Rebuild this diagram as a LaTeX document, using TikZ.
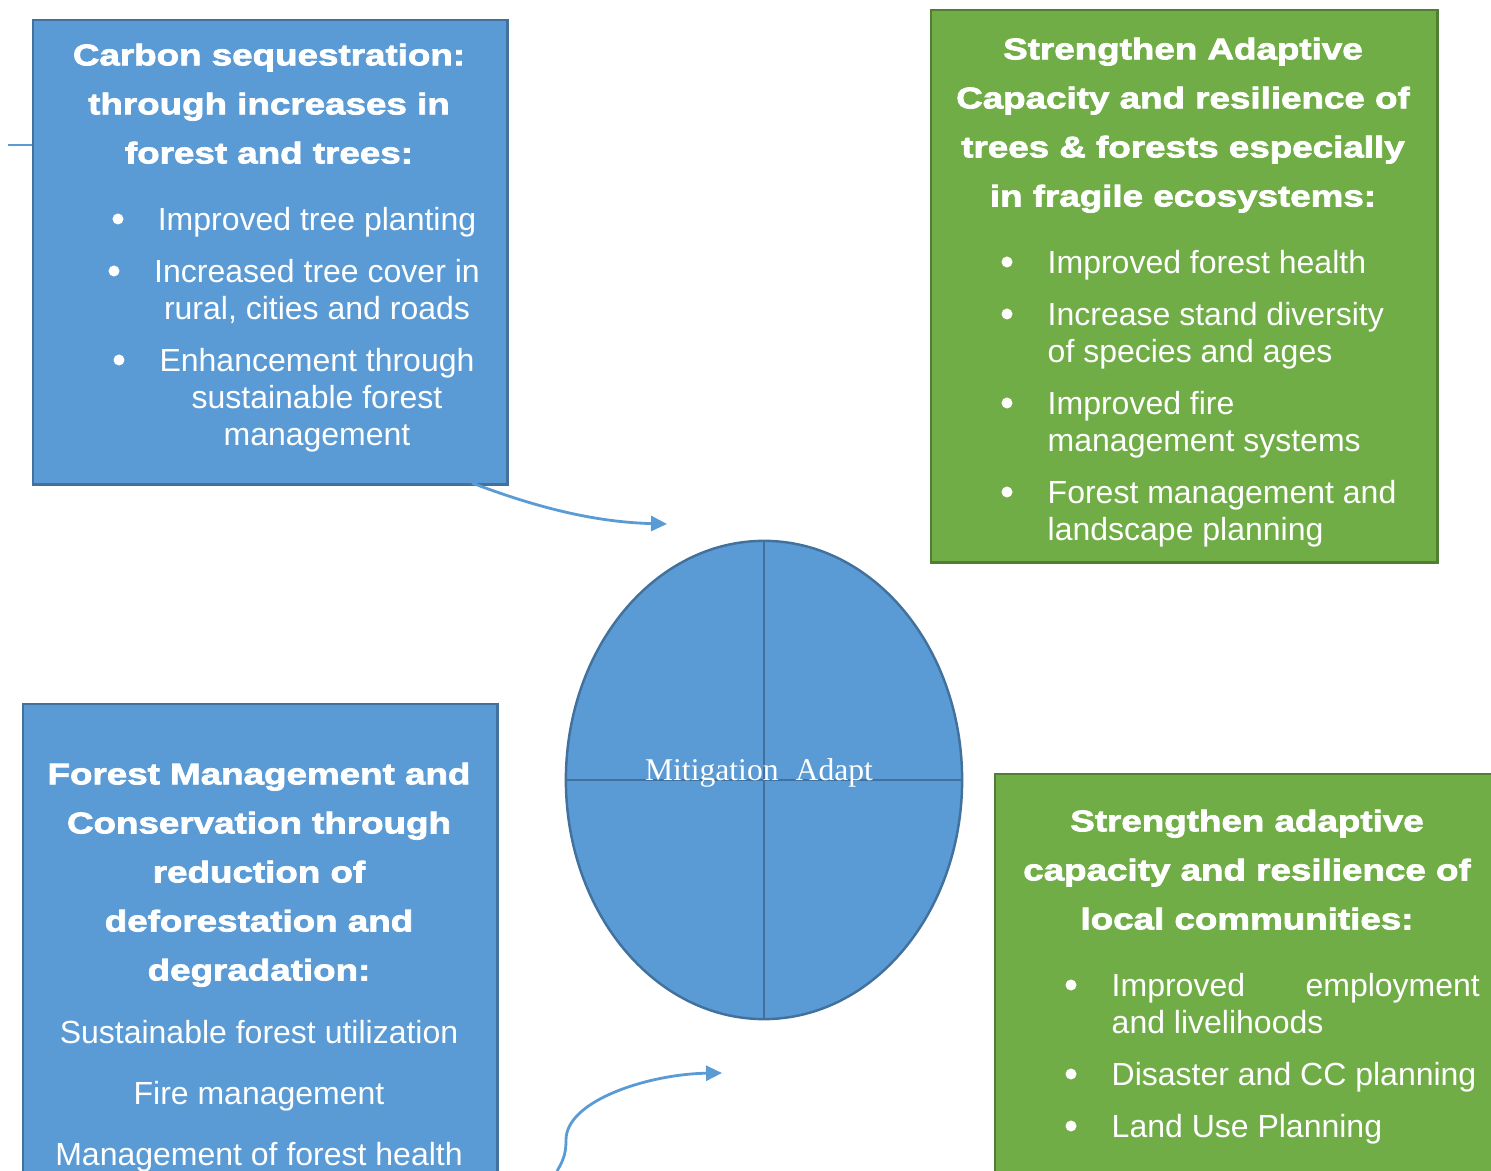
\documentclass[tikz,border=0pt]{standalone}
\usepackage{fontspec}
\setmainfont{Liberation Sans}
\newfontfamily\headfont[FakeStretch=1.23,FakeBold=2.5]{Liberation Sans Bold}
\newfontfamily\ovalfont{Liberation Serif}
\usetikzlibrary{positioning,arrows.meta,shapes.geometric}

\definecolor{mitfill}{HTML}{5B9BD5}
\definecolor{mitline}{HTML}{41719C}
\definecolor{adafill}{HTML}{70AD47}
\definecolor{adaline}{HTML}{507E32}

\begin{document}
\begin{tikzpicture}[
x=0.01cm, y=-0.01cm,
mitbox/.style={
	rectangle,
	draw=mitline,
	fill=mitfill,
	line width=0.7pt,
	anchor=north west
},
adabox/.style={
	rectangle,
	draw=adaline,
	fill=adafill,
	line width=0.7pt,
	anchor=north west
},
head/.style={
	anchor=north,
	inner sep=0pt,
	align=center,
	text=white,
	font=\headfont\fontsize{8.5}{13.94}\selectfont
},
itemtext/.style={
	anchor=north west,
	inner sep=0pt,
	align=left,
	text=white,
	font=\fontsize{9.1}{10.53}\selectfont
},
itemmid/.style={
	itemtext,
	anchor=north,
	align=center
},
dot/.style={
	circle,
	fill=white,
	inner sep=0pt,
	minimum size=0.11cm
},
link/.style={draw=mitfill, line width=0.8pt},
arrow/.style={link, -{Triangle[length=0.16cm,width=0.15cm]}}
]

\useasboundingbox (0,0) rectangle (1491,1171);
\clip (0,0) rectangle (1491,1171);

% the four boxes
\node[mitbox, minimum width=4.74cm, minimum height=4.64cm] (carbon) at (32,19) {};
\node[adabox, minimum width=5.06cm, minimum height=5.52cm] (trees) at (930,9) {};
\node[mitbox, minimum width=4.74cm, minimum height=5.6cm] (manage) at (22,703) {};
\node[adabox, minimum width=5.3cm, minimum height=5cm] (people) at (994,773) {};

% centre oval
\node[ellipse, draw=mitline, fill=mitfill, line width=0.7pt, inner sep=0pt,
	minimum width=3.96cm, minimum height=4.78cm] (pool) at (764,780) {};
\draw[mitline, line width=0.7pt] (pool.north) -- (pool.south) (pool.west) -- (pool.east);
\node[anchor=base, inner sep=0pt, text=white, font=\ovalfont\fontsize{9}{11}\selectfont]
	(pool-text) at (759,781) {Mitigation\hspace{0.17cm}Adapt};

% carbon box
\node[head] (carbon-head) at (269,43) {Carbon sequestration:\\through increases in\\forest and trees:};
\node[itemmid] (carbon-a) at (317,207) {Improved tree planting};
\node[itemmid] (carbon-b) at (317,259) {Increased tree cover in\\rural, cities and roads};
\node[itemmid] (carbon-c) at (317,348) {Enhancement through\\sustainable forest\\management};
\foreach \n/\x/\y in {a/118/219, b/114/271, c/119/360}
	\node[dot] (carbon-dot-\n) at (\x,\y) {};

% trees box
\node[head] (trees-head) at (1183,37) {Strengthen Adaptive\\Capacity and resilience of\\trees \& forests especially\\in fragile ecosystems:};
\node[itemtext] (trees-a) at (1047,250) {Improved forest health};
\node[itemtext] (trees-b) at (1047,302) {Increase stand diversity\\of species and ages};
\node[itemtext] (trees-c) at (1047,391) {Improved fire\\management systems};
\node[itemtext] (trees-d) at (1047,480) {Forest management and\\landscape planning};
\foreach \n/\y in {a/262, b/314, c/403, d/492}
	\node[dot] (trees-dot-\n) at (1007,\y) {};

% management box
\node[head] (manage-head) at (259,762) {Forest Management and\\Conservation through\\reduction of\\deforestation and\\degradation:};
\node[itemmid] (manage-a) at (259,1020) {Sustainable forest utilization};
\node[itemmid] (manage-b) at (259,1081) {Fire management};
\node[itemmid] (manage-c) at (259,1142) {Management of forest health};

% communities box
\node[head] (people-head) at (1247,809) {Strengthen adaptive\\capacity and resilience of\\local communities:};
\node[itemtext] (people-a) at (1111,973) {\makebox[3.68cm][s]{Improved employment}\\and livelihoods};
\node[itemtext] (people-b) at (1111,1062) {Disaster and CC planning};
\node[itemtext] (people-c) at (1111,1114) {Land Use Planning};
\foreach \n/\y in {a/985, b/1074, c/1126}
	\node[dot] (people-dot-\n) at (1071,\y) {};

% connectors
\coordinate (stub) at (8,145);
\coordinate (carbon-exit) at (472,483);
\coordinate (pool-in) at (667,524);
\coordinate (manage-exit) at (557,1171);
\coordinate (pool-back) at (722,1073);

\draw[link] (stub) -- (stub -| carbon.west);
\draw[arrow] (carbon-exit) .. controls (530,505) and (590,522) .. (pool-in);
\draw[arrow] (manage-exit) .. controls (565,1158) and (566,1150) .. (566,1140)
	.. controls (566,1100) and (650,1074) .. (pool-back);

\end{tikzpicture}
\end{document}
